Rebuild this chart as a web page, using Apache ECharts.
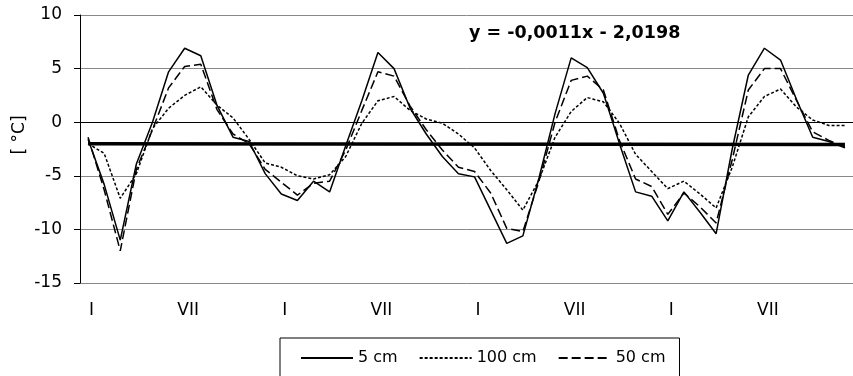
<!DOCTYPE html>
<html>
<head>
<meta charset="utf-8">
<script src="https://cdn.jsdelivr.net/npm/echarts@6/dist/echarts.min.js"></script>
<style>
  html, body { margin: 0; padding: 0; background: #fff; }
  #chart { width: 853px; height: 376px; }
</style>
</head>
<body>
<div id="chart"></div>
<script>
// mesiace (4 roky, mesačné hodnoty)
const months = ["I", "II", "III", "IV", "V", "VI", "VII", "VIII", "IX", "X", "XI", "XII"];
const categories = [].concat(months, months, months, months);

// teplota pôdy v hĺbke 5 cm
const t5 = [
  -1.6, -5.8, -11.0, -3.9, 0.0, 4.7, 6.9, 6.2, 1.6, -1.4, -1.8, -4.8,
  -6.7, -7.3, -5.5, -6.5, -2.2, 2.0, 6.5, 5.0, 1.3, -1.1, -3.2, -4.8,
  -5.1, -8.2, -11.3, -10.6, -5.2, 0.8, 6.0, 5.1, 2.7, -2.0, -6.5, -6.9,
  -9.2, -6.5, -8.4, -10.4, -2.5, 4.4, 6.9, 5.8, 2.1, -1.4, -1.8, -2.4
];
// hĺbka 100 cm
const t100 = [
  -2.0, -2.9, -7.1, -4.8, -0.6, 1.3, 2.5, 3.3, 1.6, 0.4, -1.6, -3.8,
  -4.2, -5.0, -5.3, -4.9, -3.2, -0.1, 2.0, 2.4, 1.1, 0.3, -0.1, -1.1,
  -2.4, -4.5, -6.3, -8.2, -5.4, -1.4, 1.0, 2.3, 1.9, -0.1, -3.0, -4.6,
  -6.2, -5.5, -6.7, -8.0, -4.2, 0.5, 2.4, 3.1, 1.4, 0.2, -0.3, -0.3
];
// hĺbka 50 cm
const t50 = [
  -1.4, -6.3, -12.0, -4.4, -0.7, 3.2, 5.2, 5.4, 1.2, -1.1, -2.0, -4.4,
  -5.6, -6.8, -5.7, -5.5, -2.6, 1.1, 4.7, 4.3, 1.5, -0.7, -2.6, -4.2,
  -4.6, -6.6, -9.9, -10.2, -5.5, 0.0, 3.9, 4.3, 3.0, -1.7, -5.3, -6.0,
  -8.6, -6.6, -7.9, -9.4, -3.5, 3.0, 5.0, 5.0, 2.0, -0.9, -1.7, -2.3
];
// lineárny trend (začiatok a koniec)
const trendEnds = [-2.0209, -2.0726];
const trendLabel = "y = -0,0011x - 2,0198";
const yTicks = { min: -15, max: 10, step: 5 };

const font = "DejaVu Sans";
const chart = echarts.init(document.getElementById("chart"));

const options = {
  animation: false,
  grid: { left: 80, top: 15, width: 780, height: 268 },
  legend: {
    data: ["5 cm", "100 cm", "50 cm"],
    left: 280,
    top: 338,
    padding: [12, 14, 12, 20],
    itemGap: 21,
    itemWidth: 52,
    itemHeight: 14,
    borderColor: "#000",
    borderWidth: 1,
    selectedMode: false,
    // skryť krúžok v ikonke legendy, ostane len čiara
    itemStyle: { opacity: 0 },
    textStyle: { fontFamily: font, fontSize: 16, color: "#000" }
  },
  xAxis: {
    type: "category",
    data: categories,
    boundaryGap: true,
    axisLine: { lineStyle: { color: "#000", width: 1 } },
    axisTick: { interval: 0, length: 7, lineStyle: { color: "#000" } },
    axisLabel: {
      interval: 5,
      margin: 19,
      padding: [0, 0, 0, 7],
      fontFamily: font,
      fontSize: 17,
      color: "#000"
    },
    splitLine: { show: false }
  },
  yAxis: {
    type: "value",
    min: yTicks.min,
    max: yTicks.max,
    interval: yTicks.step,
    axisLine: { show: true, lineStyle: { color: "#000" } },
    axisTick: { show: true, length: 6, lineStyle: { color: "#000" } },
    axisLabel: { margin: 18, fontFamily: font, fontSize: 17, color: "#000" },
    splitLine: { lineStyle: { color: "#888", width: 1 } }
  },
  series: [
    {
      name: "5 cm",
      type: "line",
      data: t5,
      symbol: "none",
      itemStyle: { color: "#000" },
      lineStyle: { color: "#000", width: 1.5, type: "solid" }
    },
    {
      name: "100 cm",
      type: "line",
      data: t100,
      symbol: "none",
      itemStyle: { color: "#000" },
      lineStyle: { color: "#000", width: 1.5, type: [3, 2] }
    },
    {
      name: "50 cm",
      type: "line",
      data: t50,
      symbol: "none",
      itemStyle: { color: "#000" },
      lineStyle: { color: "#000", width: 1.5, type: [9, 4] }
    },
    {
      name: "trend",
      type: "line",
      data: [[0, trendEnds[0]], [categories.length - 1, trendEnds[1]]],
      symbol: "none",
      z: 5,
      lineStyle: { color: "#000", width: 3.5 }
    }
  ],
  graphic: [
    {
      type: "text",
      x: 469,
      y: 33,
      style: {
        text: trendLabel,
        font: 'bold 17.5px "DejaVu Sans"',
        fill: "#000",
        verticalAlign: "middle"
      }
    },
    {
      type: "text",
      x: 20,
      y: 135,
      rotation: Math.PI / 2,
      style: {
        text: "[ °C]",
        font: '17px "DejaVu Sans"',
        fill: "#000",
        align: "center",
        verticalAlign: "middle"
      }
    }
  ]
};

chart.setOption(options);
</script>
</body>
</html>
